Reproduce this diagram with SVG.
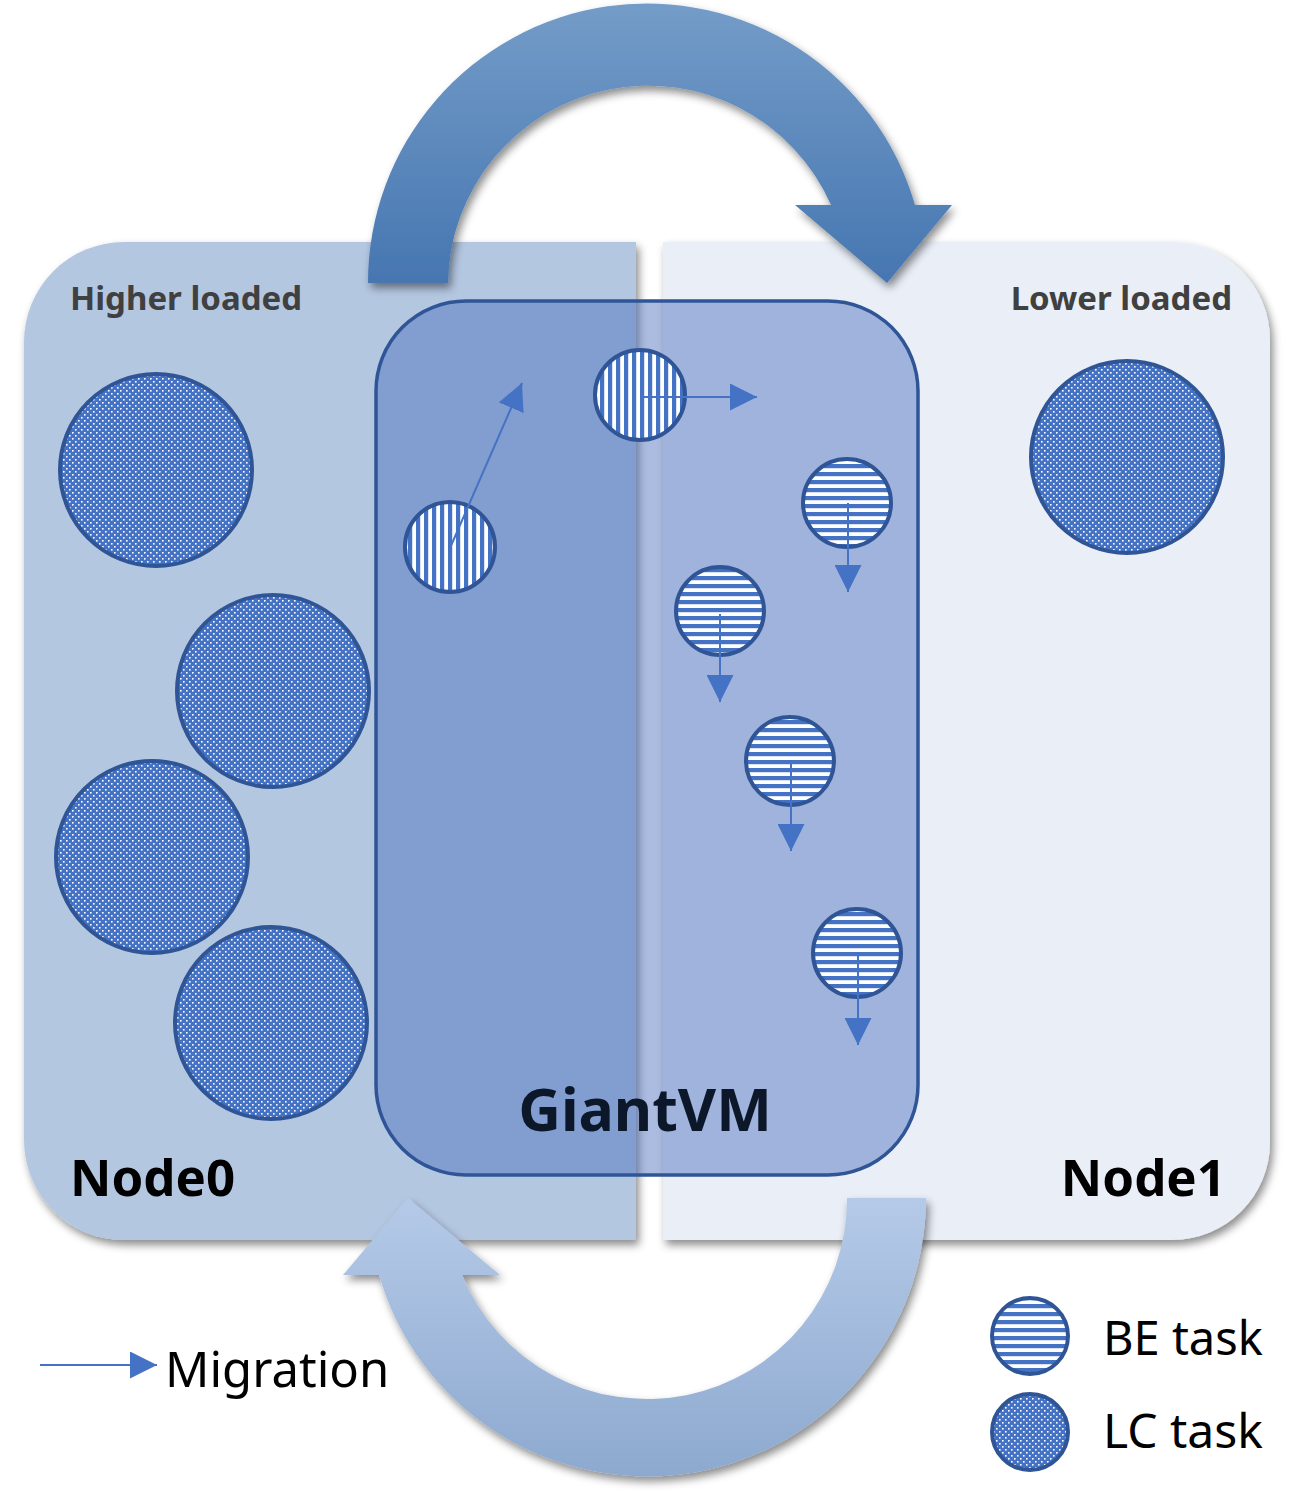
<svg xmlns="http://www.w3.org/2000/svg" width="1296" height="1492" viewBox="0 0 1296 1492">
<style>
.lc{fill:url(#dots);stroke:#2f5597;stroke-width:4}
.be{fill:url(#hstripe);stroke:#2f5597;stroke-width:4}
.bv{fill:url(#vstripe);stroke:#2f5597;stroke-width:4}
.mig{stroke:#4472c4;stroke-width:2;fill:none;marker-end:url(#ah)}
.lbl{font-family:"Noto Sans","Open Sans","DejaVu Sans",sans-serif}
</style>
<defs>
<pattern id="dots" patternUnits="userSpaceOnUse" width="6" height="6">
<rect width="6" height="6" fill="#4472c4"/>
<rect x="0" y="0" width="1.6" height="1.6" fill="#fff"/>
<rect x="3" y="3" width="1.6" height="1.6" fill="#fff"/>
</pattern>
<pattern id="hstripe" patternUnits="userSpaceOnUse" width="8" height="8">
<rect width="8" height="8" fill="#fff"/>
<rect y="0" width="8" height="4.2" fill="#4472c4"/>
</pattern>
<pattern id="vstripe" patternUnits="userSpaceOnUse" width="8" height="8">
<rect width="8" height="8" fill="#fff"/>
<rect x="0" width="4.2" height="8" fill="#4472c4"/>
</pattern>
<linearGradient id="gTop" x1="0" y1="0" x2="0" y2="1">
<stop offset="0" stop-color="#749cc8"/>
<stop offset="1" stop-color="#4676b1"/>
</linearGradient>
<linearGradient id="gBot" x1="0" y1="0" x2="0" y2="1">
<stop offset="0" stop-color="#b5cae8"/>
<stop offset="1" stop-color="#8da9cf"/>
</linearGradient>
<filter id="sh" x="-10%" y="-10%" width="125%" height="125%">
<feDropShadow dx="3" dy="5" stdDeviation="4" flood-color="#000" flood-opacity="0.45"/>
</filter>
<marker id="ah" markerUnits="userSpaceOnUse" markerWidth="27" markerHeight="27" refX="26" refY="13" orient="auto" viewBox="0 0 26 26">
<path d="M0 0 L26 13 L0 26 Z" fill="#4472c4"/>
</marker>
</defs>
<rect width="1296" height="1492" fill="#fff"/>

<g id="node0">
<path d="M124 242 H636 V1240 H124 A100 100 0 0 1 24 1140 V342 A100 100 0 0 1 124 242 Z" fill="#b4c7e1" filter="url(#sh)"/>
</g>
<g id="node1">
<path d="M663 242 H1172 A98 98 0 0 1 1270 340 V1142 A98 98 0 0 1 1172 1240 H663 Z" fill="#e9eef7" filter="url(#sh)"/>
</g>

<g id="arrow-top">
<path d="M368 283 A279 279 0 0 1 915 205 L952 205 L887 283 L795 205 L831 205 A200 200 0 0 0 448 283 Z" fill="url(#gTop)" filter="url(#sh)"/>
</g>
<g id="arrow-bottom">
<path d="M926 1198 A279 279 0 0 1 379 1275 L343 1275 L408 1198 L500 1275 L462 1275 A200 200 0 0 0 847 1198 Z" fill="url(#gBot)" filter="url(#sh)"/>
</g>

<g id="giantvm">
<rect x="376" y="301" width="542" height="874" rx="90" ry="90" fill="#446bbb" fill-opacity="0.45" stroke="#2f5597" stroke-width="3.5"/>
<text class="lbl" x="645" y="1131" text-anchor="middle" font-size="59" font-weight="bold" fill="#0c1729">GiantVM</text>
</g>

<g id="lc-tasks">
<circle class="lc" cx="156" cy="470" r="96"/>
<circle class="lc" cx="273" cy="691" r="96"/>
<circle class="lc" cx="152" cy="857" r="96"/>
<circle class="lc" cx="271" cy="1023" r="96"/>
<circle class="lc" cx="1127" cy="457" r="96"/>
</g>

<g id="be-tasks">
<circle class="bv" cx="640" cy="395" r="45"/>
<circle class="bv" cx="450" cy="547" r="45"/>
<circle class="be" cx="847" cy="503" r="44"/>
<circle class="be" cx="720" cy="611" r="44"/>
<circle class="be" cx="790" cy="761" r="44"/>
<circle class="be" cx="857" cy="953" r="44"/>
</g>

<g id="connectors">
<line class="mig" x1="450" y1="548" x2="522" y2="383"/>
<line class="mig" x1="640" y1="397" x2="757" y2="397"/>
<line class="mig" x1="848" y1="503" x2="848" y2="592"/>
<line class="mig" x1="720" y1="614" x2="720" y2="702"/>
<line class="mig" x1="791" y1="763" x2="791" y2="851"/>
<line class="mig" x1="858" y1="955" x2="858" y2="1045"/>
</g>

<g id="labels">
<text class="lbl" x="70" y="310" font-size="33" font-weight="bold" fill="#404040">Higher loaded</text>
<text class="lbl" x="1232" y="310" text-anchor="end" font-size="33" font-weight="bold" fill="#404040">Lower loaded</text>
<text class="lbl" x="70" y="1196" font-size="51" font-weight="bold" fill="#000">Node0</text>
<text class="lbl" x="1226" y="1196" text-anchor="end" font-size="51" font-weight="bold" fill="#000">Node1</text>
</g>

<g id="legend">
<line class="mig" x1="40" y1="1365" x2="157" y2="1365" stroke-width="1.6"/>
<text class="lbl" x="165" y="1387" font-size="49" fill="#000">Migration</text>
<circle class="be" cx="1030" cy="1336" r="38"/>
<text class="lbl" x="1103" y="1355" font-size="47" fill="#000">BE task</text>
<circle class="lc" cx="1030" cy="1432" r="38"/>
<text class="lbl" x="1103" y="1448" font-size="48" fill="#000">LC task</text>
</g>
</svg>
